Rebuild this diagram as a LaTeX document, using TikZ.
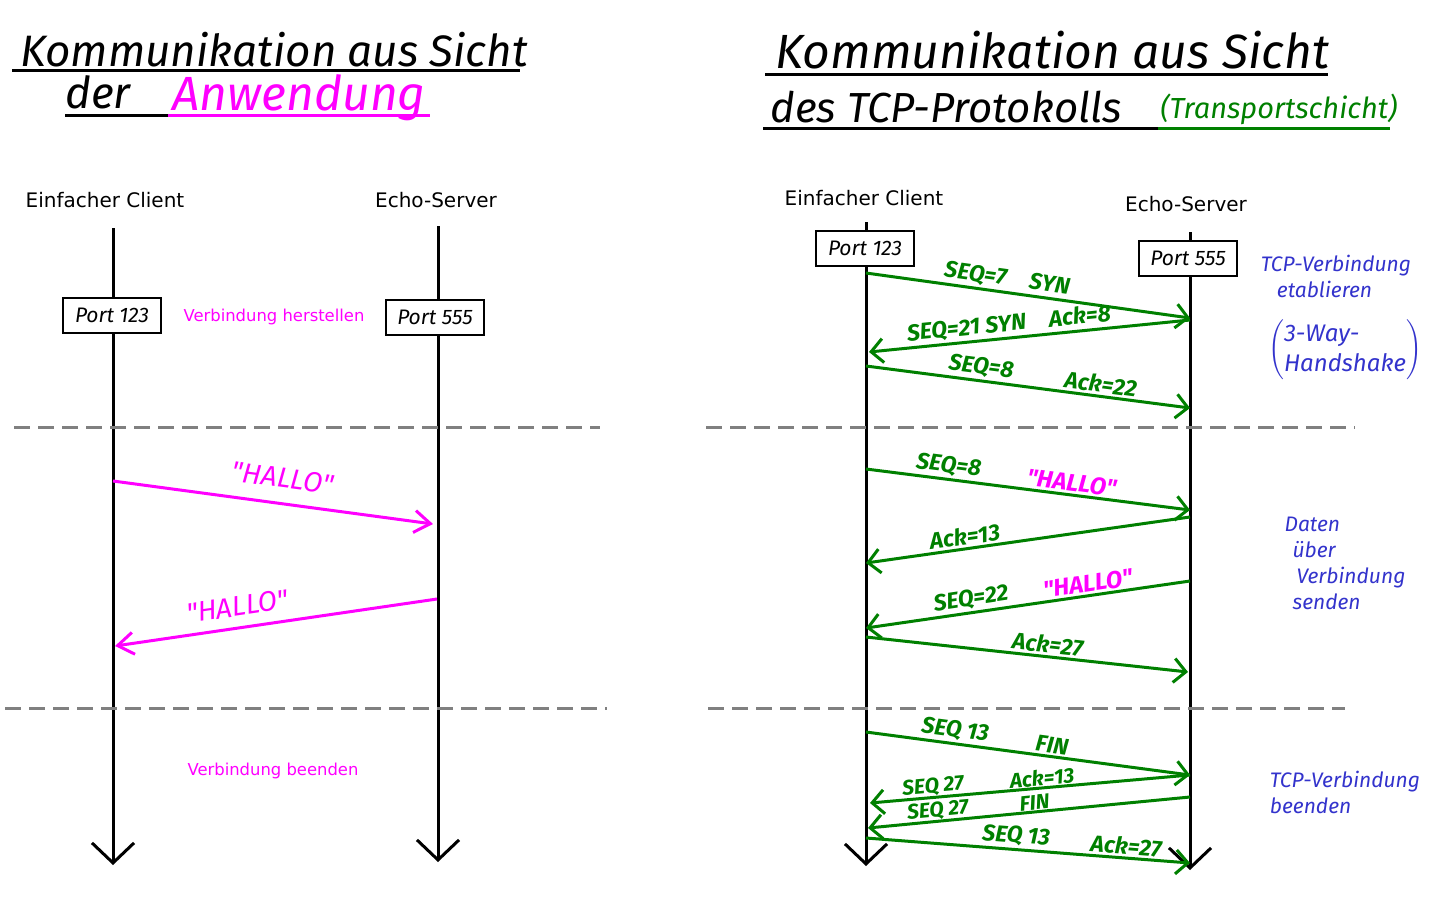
\documentclass[tikz,border=0pt]{standalone}
\usepackage{fontspec}
\setmainfont{DejaVu Sans}
\newfontfamily\handfont{Fira Sans}
\usetikzlibrary{arrows.meta}
\definecolor{tcpgreen}{RGB}{0,128,0}
\definecolor{appmagenta}{RGB}{255,0,255}
\definecolor{noteblue}{RGB}{51,51,204}
\definecolor{sepgray}{RGB}{128,128,128}
\tikzstyle{lifeline} = [draw=black, line width=1.5pt, -{Straight Barb[length=10pt,width=21pt]}]
\tikzstyle{portbox} = [draw=black, line width=1pt, fill=white, rectangle, minimum width=49pt, minimum height=17.5pt, inner sep=1pt, font=\handfont\itshape\fontsize{10.5}{12}\selectfont]
\tikzstyle{typed} = [inner sep=0pt, font=\fontsize{10}{12}\selectfont]
\tikzstyle{hint} = [inner sep=0pt, text=appmagenta, font=\fontsize{8.2}{10}\selectfont]
\tikzstyle{seg} = [draw=tcpgreen, line width=1.5pt, -{Straight Barb[length=6pt,width=12pt]}]
\tikzstyle{appmsg} = [draw=appmagenta, line width=1.5pt, -{Straight Barb[length=8pt,width=11pt]}]
\tikzstyle{seglabel} = [sloped, above, inner sep=1pt, text=tcpgreen, font=\handfont\itshape\bfseries\fontsize{11.5}{13}\selectfont]
\tikzstyle{tightlabel} = [seglabel, inner sep=0.2pt, font=\handfont\itshape\bfseries\fontsize{10.5}{12}\selectfont]
\tikzstyle{msglabel} = [sloped, above, inner sep=1pt, text=appmagenta, font=\handfont\itshape\fontsize{14}{16}\selectfont]
\tikzstyle{sep} = [draw=sepgray, line width=1.5pt, dash pattern=on 8pt off 4pt]
\tikzstyle{headline} = [anchor=base west, inner sep=0pt, font=\handfont\itshape\fontsize{22}{26}\selectfont]
\tikzstyle{bar} = [line width=1.5pt]
\tikzstyle{note} = [text=noteblue, align=left, inner sep=0pt, font=\handfont\itshape\fontsize{10.5}{13}\selectfont]

\begin{document}
\begin{tikzpicture}[x=0.5pt, y=-0.5pt]
\useasboundingbox (0,0) rectangle (1451,900);

% ---- linke Seite: Sicht der Anwendung ----
\node[headline] (ltitle) at (20,66) {Kommunikation aus Sicht};
\node[headline] (lder) at (65,108) {der};
\node[headline, text=appmagenta, font=\handfont\itshape\fontsize{24}{28}\selectfont] (lanw) at (172,110) {Anwendung};
\draw[bar] (12,70) -- (520,70);
\draw[bar] (65,115) -- (168,115);
\draw[bar, appmagenta] (168,115) -- (430,115);

\node[typed] (lclient) at (105,200) {Einfacher Client};
\node[typed] (lserver) at (436,200) {Echo-Server};

\coordinate (latop) at (113,228);
\coordinate (labot) at (113,865);
\coordinate (lbtop) at (438,226);
\coordinate (lbbot) at (438,862);
\draw[lifeline] (latop) -- (labot);
\draw[lifeline] (lbtop) -- (lbbot);

\node[portbox] (lport1) at (112,315) {Port 123};
\node[portbox] (lport2) at (435,317) {Port 555};
\node[hint] (lopen) at (274,317) {Verbindung herstellen};

\coordinate (lsepa) at (14,427);
\coordinate (lsepb) at (600,427);
\coordinate (lsepc) at (5,708);
\coordinate (lsepd) at (607,708);
\draw[sep] (lsepa) -- (lsepb);
\draw[sep] (lsepc) -- (lsepd);

\coordinate (lh1) at (113,481);
\coordinate (lh2) at (433,524);
\coordinate (lh3) at (437,599);
\coordinate (lh4) at (115,646);
\draw[appmsg] (lh1) -- node[msglabel, pos=0.52, above=6pt] {"HALLO"} (lh2);
\draw[appmsg] (lh3) -- node[msglabel, pos=0.61, above=4pt] {"HALLO"} (lh4);

\node[hint] (lclose) at (273,771) {Verbindung beenden};

% ---- rechte Seite: Sicht des TCP-Protokolls ----
\node[headline, font=\handfont\itshape\fontsize{24}{28}\selectfont] (rtitle) at (775,68) {Kommunikation aus Sicht};
\node[headline, font=\handfont\itshape\fontsize{21}{25}\selectfont] (rdes) at (770,122) {des TCP-Protokolls};
\node[headline, text=tcpgreen, font=\handfont\itshape\fontsize{14.5}{18}\selectfont] (rtrans) at (1160,118) {(Transportschicht)};
\draw[bar] (765,74) -- (1328,74);
\draw[bar] (763,128) -- (1160,128);
\draw[bar, tcpgreen] (1158,128) -- (1390,128);

\node[typed] (rclient) at (864,198) {Einfacher Client};
\node[typed] (rserver) at (1186,204) {Echo-Server};

\coordinate (ratop) at (866,222);
\coordinate (rabot) at (866,866);
\coordinate (rbtop) at (1190,232);
\coordinate (rbbot) at (1190,870);
\draw[lifeline] (ratop) -- (rabot);
\draw[lifeline] (rbtop) -- (rbbot);

\node[portbox] (rport1) at (865,248) {Port 123};
\node[portbox] (rport2) at (1188,258) {Port 555};

\coordinate (rsepa) at (706,427);
\coordinate (rsepb) at (1355,427);
\coordinate (rsepc) at (708,708);
\coordinate (rsepd) at (1345,708);
\draw[sep] (rsepa) -- (rsepb);
\draw[sep] (rsepc) -- (rsepd);

% Verbindungsaufbau
\coordinate (c1) at (866,273);  \coordinate (s1) at (1190,318);
\coordinate (s2) at (1190,320); \coordinate (c2) at (869,352);
\coordinate (c3) at (866,366);  \coordinate (s3) at (1190,408);
\draw[seg] (c1) -- node[seglabel, pos=0.43] {SEQ=7\quad SYN} (s1);
\draw[seg] (s2) -- node[seglabel, pos=0.56] {SEQ=21 SYN\quad Ack=8} (c2);
\draw[seg] (c3) -- node[seglabel, pos=0.35] {SEQ=8}
                   node[seglabel, pos=0.72] {Ack=22} (s3);

% Daten
\coordinate (c4) at (866,469);  \coordinate (s4) at (1190,510);
\coordinate (s5) at (1190,517); \coordinate (c5) at (866,563);
\coordinate (s6) at (1190,581); \coordinate (c6) at (866,628);
\coordinate (c7) at (866,637);  \coordinate (s7) at (1188,672);
\draw[seg] (c4) -- node[seglabel, pos=0.25] {SEQ=8}
                   node[msglabel, pos=0.63, font=\handfont\itshape\bfseries\fontsize{12}{14}\selectfont] {"HALLO"} (s4);
\draw[seg] (s5) -- node[seglabel, pos=0.69] {Ack=13} (c5);
\draw[seg] (s6) -- node[seglabel, pos=0.67] {SEQ=22}
                   node[msglabel, pos=0.31, font=\handfont\itshape\bfseries\fontsize{12}{14}\selectfont] {"HALLO"} (c6);
\draw[seg] (c7) -- node[seglabel, pos=0.56] {Ack=27} (s7);

% Verbindungsabbau
\coordinate (c8) at (866,732);   \coordinate (s8) at (1190,775);
\coordinate (s9) at (1190,775);  \coordinate (c9) at (870,803);
\coordinate (s10) at (1190,797); \coordinate (c10) at (868,828);
\coordinate (c11) at (866,838);  \coordinate (s11) at (1190,863);
\draw[seg] (c8) -- node[seglabel, pos=0.27] {SEQ 13}
                   node[seglabel, pos=0.57] {FIN} (s8);
\draw[seg] (s9) -- node[tightlabel, pos=0.80] {SEQ 27}
                   node[tightlabel, pos=0.46] {Ack=13} (c9);
\draw[seg] (s10) -- node[tightlabel, pos=0.78] {SEQ 27}
                    node[tightlabel, pos=0.48] {FIN} (c10);
\draw[seg] (c11) -- node[seglabel, pos=0.46] {SEQ 13}
                    node[seglabel, pos=0.80] {Ack=27} (s11);

% Notizen
\node[note] (nopen) at (1336,276) {TCP-Verbindung\\\hspace*{8pt}etablieren};
\node[note, font=\handfont\itshape\fontsize{12}{15}\selectfont] (nshake) at (1345,350)
  {$\left(\mbox{\begin{tabular}{@{}l@{}}3-Way-\\Handshake\end{tabular}}\right)$};
\node[note] (ndata) at (1345,563) {Daten\\\hspace*{4pt}über\\\hspace*{6pt}Verbindung\\\hspace*{4pt}senden};
\node[note] (nclose) at (1345,792) {TCP-Verbindung\\beenden};
\end{tikzpicture}
\end{document}
